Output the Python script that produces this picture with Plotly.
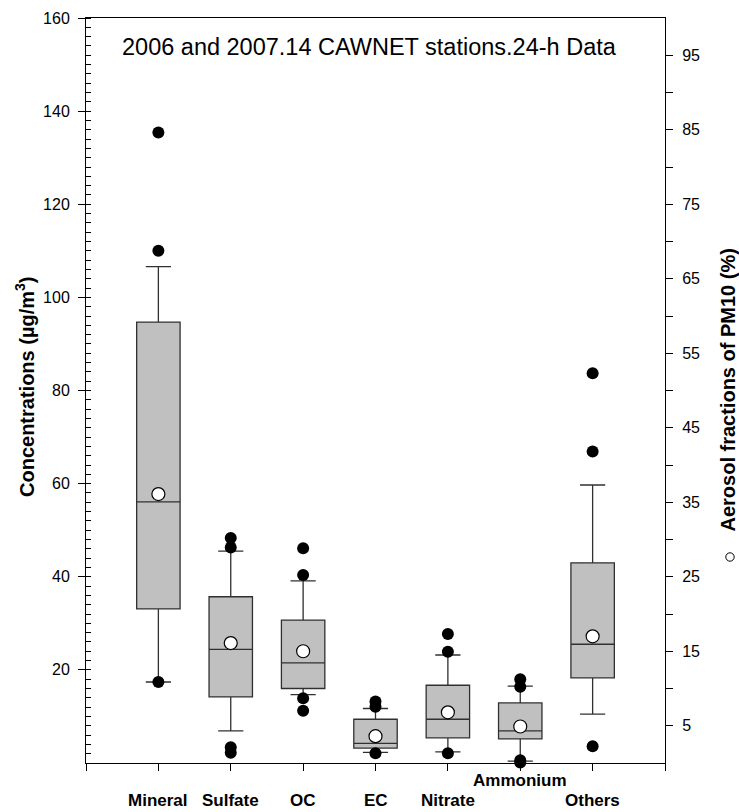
import plotly.graph_objects as go

categories = ["Mineral", "Sulfate", "OC", "EC", "Nitrate", "Ammonium", "Others"]
q1 = [33.1, 14.2, 16.0, 3.2, 5.4, 5.2, 18.3]
median = [56.1, 24.4, 21.5, 4.2, 9.4, 6.9, 25.5]
q3 = [94.7, 35.7, 30.7, 9.4, 16.7, 12.9, 43.0]
lower_whisker = [17.4, 6.9, 14.7, 2.3, 2.4, 0.4, 10.5]
upper_whisker = [106.6, 45.5, 39.1, 11.7, 23.2, 16.5, 59.7]
outliers = [
    [135.4, 110.0, 17.4],
    [48.3, 46.3, 3.4, 2.2],
    [46.1, 40.4, 13.9, 11.2],
    [13.2, 12.1, 2.1],
    [27.7, 23.9, 2.1],
    [18.0, 16.4, 0.6, 0.1],
    [83.7, 66.9, 3.6],
]
fractions = [36.1, 16.1, 15.0, 3.6, 6.8, 4.9, 17.0]  # % of PM10 (right axis)

left_ticks = [20, 40, 60, 80, 100, 120, 140, 160]
right_ticks = list(range(5, 100, 5))

FONT = "Liberation Sans, Arial, sans-serif"
pos = list(range(1, len(categories) + 1))

fig = go.Figure()

fig.add_trace(go.Box(
    x=pos, q1=q1, median=median, q3=q3,
    lowerfence=lower_whisker, upperfence=upper_whisker,
    width=0.6, whiskerwidth=0.58,
    fillcolor="#c0c0c0",
    line=dict(color="#303030", width=1.3),
    boxpoints=False, hoverinfo="skip", showlegend=False,
))

ox, oy = [], []
for i, vals in enumerate(outliers):
    for v in vals:
        ox.append(pos[i])
        oy.append(v)
fig.add_trace(go.Scatter(
    x=ox, y=oy, mode="markers",
    marker=dict(color="black", size=12, line=dict(width=0)),
    cliponaxis=False, showlegend=False,
))

fig.add_trace(go.Scatter(
    x=pos, y=fractions, mode="markers", yaxis="y2",
    marker=dict(color="white", size=13, line=dict(color="black", width=1.2)),
    cliponaxis=False, showlegend=False,
))

axis_common = dict(showgrid=False, zeroline=False, showline=True,
                   linecolor="black", linewidth=1, ticks="outside",
                   ticklen=7, tickcolor="black", tickwidth=1,
                   automargin=False)
tick_font = dict(family=FONT, size=16, color="black")

fig.update_layout(
    width=739, height=812,
    margin=dict(l=86, r=74, t=18, b=49, autoexpand=False),
    paper_bgcolor="white", plot_bgcolor="white",
    boxmode="overlay",
    xaxis=dict(range=[0, 8], tickvals=list(range(0, 9)),
               ticktext=[""] * 9, mirror=True, **axis_common),
    yaxis=dict(range=[0, 160], tickvals=left_ticks, tickfont=tick_font,
               ticklabelstandoff=5,
               minor=dict(dtick=2, ticks="inside", ticklen=5,
                          tickcolor="black", tickwidth=1),
               **axis_common),
    yaxis2=dict(range=[0, 100], overlaying="y", side="right",
                tickvals=right_ticks, tickfont=tick_font,
                ticklabelstandoff=6,
                ticktext=[str(t) if t % 10 == 5 else "" for t in right_ticks],
                **axis_common),
)

annotations = []
for i, c in enumerate(categories):
    annotations.append(dict(
        x=pos[i], y=-0.024 if c == "Ammonium" else -0.0497,
        xref="x", yref="paper", text="<b>%s</b>" % c, showarrow=False,
        font=dict(family=FONT, size=17, color="black"),
        xanchor="center", yanchor="middle",
    ))
annotations.append(dict(
    x=0.489, y=0.961, xref="paper", yref="paper",
    text="2006 and 2007.14 CAWNET stations.24-h Data", showarrow=False,
    font=dict(family=FONT, size=23.5, color="black"),
    xanchor="center", yanchor="middle",
))
annotations.append(dict(
    x=-0.105, y=0.505, xref="paper", yref="paper",
    text="<b>Concentrations (µg/m<sup>3</sup>)</b>", showarrow=False,
    textangle=-90, font=dict(family=FONT, size=20, color="black"),
    xanchor="center", yanchor="middle",
))
annotations.append(dict(
    x=(727 - 86) / 579, y=0.50, xref="paper", yref="paper",
    text="<b>Aerosol fractions of PM10 (%)</b>", showarrow=False,
    textangle=-90, font=dict(family=FONT, size=20, color="black"),
    xanchor="center", yanchor="middle",
))
fig.update_layout(annotations=annotations)

cx, cy = (730 - 86) / 579, (763 - 557) / 745
fig.add_shape(type="circle", xref="paper", yref="paper",
              x0=cx - 4.2 / 579, x1=cx + 4.2 / 579,
              y0=cy - 4.2 / 745, y1=cy + 4.2 / 745,
              line=dict(color="black", width=1), fillcolor="white")

fig.write_html(
    "out.html",
    config={"displayModeBar": False},
    post_script="document.body.style.margin='0';"
                "document.body.style.overflow='hidden';",
)
